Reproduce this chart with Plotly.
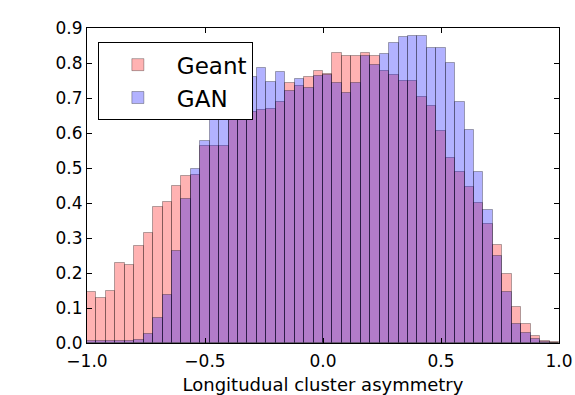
import numpy as np
import plotly.graph_objects as go

# Histogram: 50 bins over [-1, 1]
bin_lo = -1.0
bin_hi = 1.0
n_bins = 50

geant = [0.145, 0.130, 0.150, 0.229, 0.222, 0.276, 0.314, 0.390, 0.402, 0.448,
         0.476, 0.480, 0.562, 0.564, 0.564, 0.650, 0.640, 0.660, 0.667, 0.669,
         0.690, 0.743, 0.733, 0.760, 0.776, 0.770, 0.829, 0.819, 0.821, 0.829,
         0.819, 0.776, 0.767, 0.749, 0.749, 0.702, 0.676, 0.605, 0.529, 0.490,
         0.447, 0.400, 0.340, 0.281, 0.198, 0.102, 0.055, 0.021, 0.006, 0.002]

gan = [0.006, 0.006, 0.006, 0.006, 0.006, 0.008, 0.027, 0.071, 0.138, 0.262,
       0.411, 0.498, 0.576, 0.643, 0.643, 0.700, 0.740, 0.760, 0.787, 0.745,
       0.774, 0.719, 0.755, 0.730, 0.762, 0.765, 0.743, 0.714, 0.743, 0.819,
       0.793, 0.826, 0.857, 0.873, 0.878, 0.878, 0.843, 0.843, 0.800, 0.690,
       0.609, 0.490, 0.381, 0.248, 0.145, 0.055, 0.029, 0.012, 0.003, 0.001]

series_names = ["Geant", "GAN"]
x_label = "Longitudual cluster asymmetry"
x_ticks = [-1.0, -0.5, 0.0, 0.5, 1.0]
x_ticktext = ["\u22121.0", "\u22120.5", "0.0", "0.5", "1.0"]
y_ticks = [0.0, 0.1, 0.2, 0.3, 0.4, 0.5, 0.6, 0.7, 0.8, 0.9]

edges = np.linspace(bin_lo, bin_hi, n_bins + 1)
centers = (edges[:-1] + edges[1:]) / 2
width = edges[1] - edges[0]

font = "DejaVu Sans"
fig = go.Figure()
fig.add_trace(go.Bar(x=centers, y=geant, width=width, name=series_names[0],
                     marker=dict(color="rgba(255,0,0,0.3)",
                                 line=dict(color="rgba(0,0,0,0.3)", width=1))))
fig.add_trace(go.Bar(x=centers, y=gan, width=width, name=series_names[1],
                     marker=dict(color="rgba(0,0,255,0.3)",
                                 line=dict(color="rgba(0,0,0,0.3)", width=1))))

axis_common = dict(showgrid=False, zeroline=False, showline=True, linecolor="black",
                   linewidth=1, mirror="ticks", ticks="inside", ticklen=5,
                   tickcolor="black", automargin=False, ticklabeloverflow="allow",
                   tickfont=dict(family=font, size=17, color="black"))

fig.update_layout(
    width=575, height=395,
    barmode="overlay", bargap=0,
    paper_bgcolor="white", plot_bgcolor="white",
    margin=dict(l=87, r=16, t=28, b=52),
    font=dict(family=font, color="black"),
    xaxis=dict(range=[-1, 1], tickmode="array", tickvals=x_ticks, ticktext=x_ticktext,
               ticklabelstandoff=3,
               title=dict(text=x_label, font=dict(family=font, size=18), standoff=8),
               **axis_common),
    yaxis=dict(range=[0, 0.9], tickmode="array", tickvals=y_ticks,
               ticktext=[f"{v:.1f}" for v in y_ticks], **axis_common),
    legend=dict(x=0.023, y=0.955, xanchor="left", yanchor="top",
                bgcolor="white", bordercolor="black", borderwidth=1,
                font=dict(family=font, size=23, color="black"),
                itemwidth=68, tracegroupgap=2),
    showlegend=True,
)

fig.write_html("out.html")
